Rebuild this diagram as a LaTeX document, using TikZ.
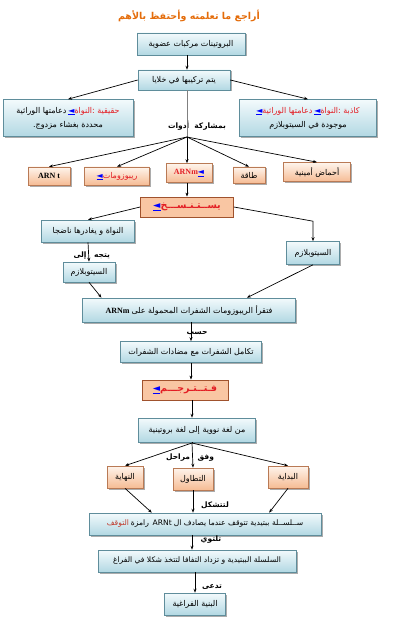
\documentclass[tikz,border=0pt]{standalone}
\usepackage{fontspec}
\setmainfont{Liberation Serif}
\newfontfamily\arabicfont[Script=Arabic]{DejaVu Sans}
\usetikzlibrary{arrows.meta,shadows}

\definecolor{titleorange}{HTML}{E46C0A}
\definecolor{textred}{HTML}{E31E24}
\definecolor{stopred}{HTML}{C0392B}
\definecolor{linkblue}{HTML}{0000FF}
\definecolor{blueT}{HTML}{F3FAFC}
\definecolor{blueB}{HTML}{B2D8E3}
\definecolor{bluedraw}{HTML}{5F8D9B}
\definecolor{peachT}{HTML}{FEF4EC}
\definecolor{peachB}{HTML}{F6BC94}
\definecolor{peachdraw}{HTML}{B97A55}
\definecolor{salmon}{HTML}{F9C6A3}
\definecolor{salmondraw}{HTML}{A0522D}

% words set one by one, left to right as they stand on the page
\newcommand{\artext}[1]{{\arabicfont #1}}
\newcommand{\lnk}{{\arabicfont\color{linkblue}\underline{◄}}}

\begin{document}
\begin{tikzpicture}[x=1pt, y=-1pt,
    bluebox/.style={draw=bluedraw, line width=0.6pt, top color=blueT, bottom color=blueB,
        drop shadow={shadow xshift=1.5pt, shadow yshift=-1.5pt, fill=black!65},
        inner sep=1pt, align=center, font=\fontsize{8}{14}\selectfont},
    peachbox/.style={bluebox, draw=peachdraw, top color=peachT, bottom color=peachB},
    redbox/.style={draw=salmondraw, line width=0.8pt, fill=salmon, inner sep=1pt,
        font=\fontsize{9.5}{10}\selectfont\bfseries},
    lbl/.style={inner sep=0pt, font=\fontsize{7.5}{8}\selectfont\bfseries},
    arr/.style={-{Stealth[length=4pt,width=3pt]}, line width=0.7pt}
]
\useasboundingbox (0,0) rectangle (418,639);

% title
\node (title) at (189,16) {\fontsize{9.5}{12}\selectfont\bfseries\color{titleorange}\artext{بالأهم وأحتفظ تعلمته ما أراجع}};

% top part
\node[bluebox, minimum width=108pt, minimum height=22pt] (prot) at (191,44) {\artext{عضوية مركبات البروتينات}};
\node[bluebox, minimum width=92pt, minimum height=20pt] (synth) at (184,80) {\artext{خلايا في تركيبها يتم}};
\node[bluebox, minimum width=130pt, minimum height=37pt] (euk) at (68,118)
    {\artext{الوراثية دعامتها}\ \lnk{\color{textred}{\arabicfont:}\artext{النواة حقيقية}}\\ \artext{.\kern0pt مزدوج بغشاء محددة}};
\node[bluebox, minimum width=137pt, minimum height=37pt] (prok) at (308,118)
    {\lnk{\color{textred}\artext{الوراثية دعامتها}}\ \lnk{\color{textred}{\arabicfont:}\artext{النواة كاذبة}}\\ \artext{السيتوبلازم في موجودة}};
\coordinate (fan) at (187,137);
\node[lbl] (share) at (197,126) {\artext{أدوات\ \ بمشاركة}};

% tools
\node[peachbox, minimum width=42pt, minimum height=18pt] (arnt) at (49,176) {\textbf{ARN t}};
\node[peachbox, minimum width=65pt, minimum height=18pt] (ribo) at (117,176) {\lnk{\color{textred}\artext{ريبوزومات}}};
\node[peachbox, minimum width=46pt, minimum height=19pt] (arnm) at (189,173) {{\color{textred}\textbf{ARNm}}\lnk};
\node[peachbox, minimum width=32pt, minimum height=16pt] (energy) at (249,175) {\artext{طاقة}};
\node[peachbox, minimum width=67pt, minimum height=19pt] (amino) at (317,172) {\artext{أمينية أحماض}};

% transcription
\node[redbox, minimum width=93pt, minimum height=20pt] (transc) at (187,207) {\lnk{\color{textred}\artext{يســتـنـســـخ}}};
\node[bluebox, minimum width=93pt, minimum height=22pt] (nucl) at (88,231) {\artext{ناضجا يغادرها و النواة}};
\node[bluebox, minimum width=52pt, minimum height=20pt] (cyto1) at (89,272) {\artext{السيتوبلازم}};
\node[bluebox, minimum width=53pt, minimum height=23pt] (cyto2) at (313,253) {\artext{السيتوبلازم}};
\node[lbl] (goes) at (102,256) {\artext{يتجه}};
\node[lbl] (to) at (80,256) {\artext{إلى}};

% translation
\node[bluebox, minimum width=213pt, minimum height=24pt] (read) at (189,310) {\textbf{ARNm}\ \artext{على المحمولة الشفرات الريبوزومات فتقرأ}};
\node[lbl] (accord) at (197,334) {\artext{حسب}};
\node[bluebox, minimum width=141pt, minimum height=21pt] (compl) at (191,352) {\artext{الشفرات مضادات مع الشفرات تكامل}};
\node[redbox, minimum width=86pt, minimum height=20pt] (transl) at (185,390) {\lnk{\color{textred}\artext{فـتــتـرجـــم}}};
\node[bluebox, minimum width=117pt, minimum height=24pt] (lang) at (197,430) {\artext{بروتينية لغة إلى نووية لغة من}};
\coordinate (fan2) at (192,443);
\node[lbl] (steps) at (190,458) {\artext{مراحل\quad وفق}};

% phases
\node[peachbox, minimum width=36pt, minimum height=22pt] (endp) at (125,477) {\artext{النهاية}};
\node[peachbox, minimum width=40pt, minimum height=22pt] (elong) at (193,479) {\artext{التطاول}};
\node[peachbox, minimum width=40pt, minimum height=22pt] (start) at (288,477) {\artext{البداية}};
\node[lbl] (forms) at (215,505) {\artext{لتتشكل}};

% result
\node[bluebox, minimum width=232pt, minimum height=22pt, font=\fontsize{7.6}{10}\selectfont] (chain) at (205,524)
    {{\color{stopred}\artext{التوقف}}\ \artext{رامزة}\ \ {\arabicfont ARNt}\ \artext{ال يصادف عندما تتوقف ببتيدية ســلســلة}};
\node[lbl] (twist) at (211,540) {\artext{تلتوي}};
\node[bluebox, minimum width=198pt, minimum height=22pt, font=\fontsize{7.6}{10}\selectfont] (fold) at (197,561) {\artext{الفراغ في شكلا لتتخذ التفافا تزداد و الببتيدية السلسلة}};
\node[lbl] (called) at (212,587) {\artext{تدعى}};
\node[bluebox, minimum width=61pt, minimum height=22pt] (struct) at (195,604) {\artext{الفراغية البنية}};

% connectors
\draw[arr] (prot.south -| fan) -- (synth.north -| fan);
\draw[arr] (synth.west) -- (euk.north);
\draw[arr] (synth.east) -- (prok.north);
\draw[line width=1pt, gray] (synth.south -| fan) -- (fan);
\draw[arr] (fan) -- (arnt.north);
\draw[arr] (fan) -- (ribo.north);
\draw[arr] (fan) -- (fan |- arnm.north);
\draw[arr] (fan) -- (energy.north);
\draw[arr] (fan) -- (amino.north);
\draw[arr] (fan |- arnm.south) -- (fan |- transc.north);
\draw[arr] (transc.west) -- (nucl.north);
\draw[arr] (transc.east) -- ([yshift=20pt]cyto2.north) -- (cyto2.north);
\draw[arr] (nucl.south) -- (cyto1.north);
\draw[arr] (cyto1.south) -- (read.172);
\draw[arr] (cyto2.south) -- (read.12);
\draw[arr] (compl.north |- read.south) -- (compl.north);
\draw[arr] (compl.south) -- (compl.south |- transl.north);
\draw[arr] (fan2 |- transl.south) -- (fan2 |- lang.north);
\draw (fan2 |- lang.south) -- (fan2);
\draw[arr] (fan2) -- (endp.north);
\draw[arr] (fan2) -- (elong.north);
\draw[arr] (fan2) -- (start.north);
\draw[arr] (endp.south) -- (chain.168);
\draw[arr] (elong.south) -- (elong.south |- chain.north);
\draw[arr] (start.south) -- (chain.10);
\draw[arr] (fan2 |- chain.south) -- (fan2 |- fold.north);
\draw[arr] (struct.north |- fold.south) -- (struct.north);
\end{tikzpicture}
\end{document}
